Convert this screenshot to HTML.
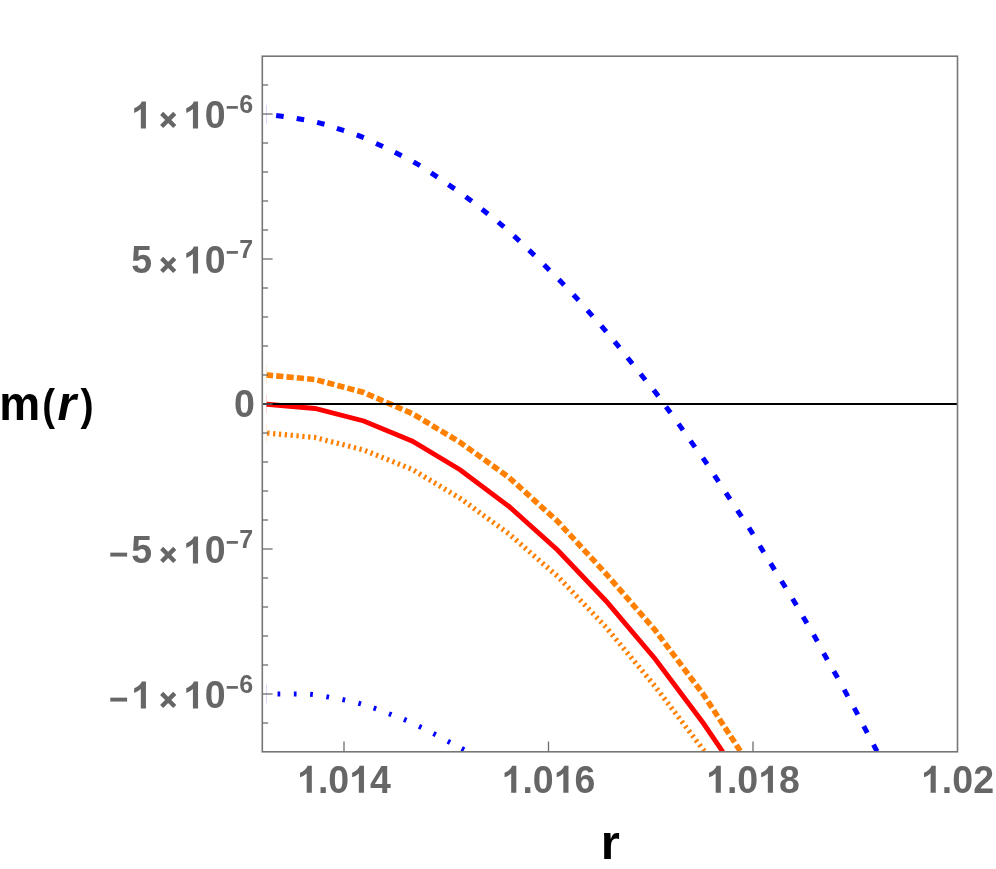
<!DOCTYPE html>
<html><head><meta charset="utf-8"><title>m(r)</title>
<style>
html,body{margin:0;padding:0;background:#fff;}
body{width:996px;height:869px;position:relative;overflow:hidden;font-family:"Liberation Sans",sans-serif;}
svg{position:absolute;left:0;top:0;display:block;will-change:transform;}
</style></head><body>
<svg width="996" height="869" viewBox="0 0 996 869">
<defs><clipPath id="fc"><rect x="262.3" y="56.2" width="695.2" height="695.5999999999999"/></clipPath>
<path id="one" d="M806 0H525V1059Q371 915 162 846V1101Q272 1137 401 1237.5T578 1472H806Z"/>
</defs>
<rect x="0" y="0" width="996" height="869" fill="#fff"/>
<g stroke="#0000ff" stroke-width="5.0" clip-path="url(#fc)"><line x1="276.14" y1="115.43" x2="283.66" y2="116.57"/><line x1="296.66" y1="118.43" x2="304.14" y2="119.77"/><line x1="317.12" y1="122.35" x2="324.48" y2="124.25"/><line x1="336.89" y1="128.31" x2="344.11" y2="130.69"/><line x1="356.72" y1="134.85" x2="363.78" y2="137.65"/><line x1="376.06" y1="143.39" x2="382.94" y2="146.61"/><line x1="394.86" y1="152.29" x2="401.64" y2="155.71"/><line x1="413.47" y1="161.84" x2="420.03" y2="165.66"/><line x1="431.08" y1="172.90" x2="437.42" y2="177.10"/><line x1="448.38" y1="184.58" x2="454.62" y2="188.92"/><line x1="465.70" y1="196.74" x2="471.80" y2="201.26"/><line x1="482.02" y1="209.25" x2="487.98" y2="213.95"/><line x1="498.20" y1="222.04" x2="504.00" y2="226.96"/><line x1="513.96" y1="235.92" x2="519.54" y2="241.08"/><line x1="529.02" y1="250.11" x2="534.48" y2="255.39"/><line x1="544.05" y1="264.82" x2="549.45" y2="270.18"/><line x1="558.85" y1="279.53" x2="564.15" y2="284.97"/><line x1="573.43" y1="294.70" x2="578.57" y2="300.30"/><line x1="587.48" y1="310.41" x2="592.52" y2="316.09"/><line x1="601.27" y1="325.87" x2="606.23" y2="331.63"/><line x1="614.59" y1="341.56" x2="619.41" y2="347.44"/><line x1="627.63" y1="357.78" x2="632.37" y2="363.72"/><line x1="640.62" y1="374.04" x2="645.38" y2="379.96"/><line x1="653.68" y1="390.09" x2="658.32" y2="396.11"/><line x1="666.01" y1="406.68" x2="670.49" y2="412.82"/><line x1="678.54" y1="423.91" x2="682.96" y2="430.09"/><line x1="690.54" y1="440.91" x2="694.96" y2="447.09"/><line x1="702.85" y1="457.87" x2="707.15" y2="464.13"/><line x1="714.41" y1="475.32" x2="718.59" y2="481.68"/><line x1="725.91" y1="492.82" x2="730.09" y2="499.18"/><line x1="737.41" y1="510.32" x2="741.59" y2="516.68"/><line x1="748.98" y1="527.78" x2="753.02" y2="534.22"/><line x1="759.78" y1="545.75" x2="763.72" y2="552.25"/><line x1="770.60" y1="563.37" x2="774.60" y2="569.83"/><line x1="781.50" y1="581.02" x2="785.50" y2="587.48"/><line x1="792.54" y1="598.74" x2="796.46" y2="605.26"/><line x1="803.09" y1="616.72" x2="806.91" y2="623.28"/><line x1="813.64" y1="634.69" x2="817.36" y2="641.31"/><line x1="823.66" y1="653.18" x2="827.34" y2="659.82"/><line x1="833.89" y1="671.19" x2="837.61" y2="677.81"/><line x1="844.17" y1="689.67" x2="847.83" y2="696.33"/><line x1="854.21" y1="707.90" x2="857.79" y2="714.60"/><line x1="863.74" y1="726.13" x2="867.26" y2="732.87"/><line x1="873.48" y1="744.64" x2="877.02" y2="751.36"/></g>
<g stroke="#0000ff" stroke-width="5.0" clip-path="url(#fc)"><line x1="277.55" y1="693.90" x2="280.25" y2="693.90"/><line x1="293.85" y1="693.88" x2="296.55" y2="693.92"/><line x1="310.16" y1="694.18" x2="312.84" y2="694.42"/><line x1="326.37" y1="696.67" x2="329.03" y2="697.13"/><line x1="342.48" y1="699.52" x2="345.12" y2="700.08"/><line x1="358.40" y1="703.24" x2="361.00" y2="703.96"/><line x1="373.62" y1="707.96" x2="376.18" y2="708.84"/><line x1="388.94" y1="713.72" x2="391.46" y2="714.68"/><line x1="403.96" y1="719.38" x2="406.44" y2="720.42"/><line x1="418.98" y1="726.21" x2="421.42" y2="727.39"/><line x1="433.40" y1="733.47" x2="435.80" y2="734.73"/><line x1="447.71" y1="741.17" x2="450.09" y2="742.43"/><line x1="461.70" y1="748.48" x2="464.10" y2="749.72"/></g>
<g fill="none" clip-path="url(#fc)" stroke-linejoin="miter">
<polyline points="266.60,375.00 315.00,379.50 363.75,392.50 412.50,413.75 460.00,442.25 508.75,477.25 557.50,521.25 606.25,574.00 655.00,630.00 703.75,695.00 740.80,751.80" stroke="#ff8000" stroke-width="5.6" stroke-dasharray="7.2 3.15" stroke-dashoffset="0.7"/>
<polyline points="266.60,404.25 315.00,408.50 363.75,421.00 412.50,441.25 460.00,469.75 508.75,506.25 557.50,550.00 606.25,601.25 655.00,658.75 703.75,723.75 722.80,751.80" stroke="#ff0000" stroke-width="4.9"/>
<polyline points="266.60,433.00 315.00,437.50 363.75,450.00 412.50,469.50 460.00,498.25 508.75,533.75 557.50,576.25 606.25,627.50 655.00,686.25 704.80,751.80" stroke="#ff8000" stroke-width="5.2" stroke-dasharray="2.3 3.57" stroke-dashoffset="-0.6"/>
</g>
<line x1="266.6" x2="266.6" y1="104.9" y2="123.5" stroke="#0000ff" stroke-width="0.8" opacity="0.22"/>
<line x1="266.6" x2="266.6" y1="365.7" y2="384.3" stroke="#ff8000" stroke-width="0.8" opacity="0.22"/>
<line x1="266.6" x2="266.6" y1="394.7" y2="413.3" stroke="#ff0000" stroke-width="0.8" opacity="0.22"/>
<line x1="266.6" x2="266.6" y1="423.7" y2="442.3" stroke="#ff8000" stroke-width="0.8" opacity="0.22"/>
<line x1="266.6" x2="266.6" y1="684.7" y2="703.3" stroke="#0000ff" stroke-width="0.8" opacity="0.22"/>
<line x1="262.3" x2="957.5" y1="404.0" y2="404.0" stroke="#000" stroke-width="2"/>
<g stroke="#767676" stroke-width="1.6" fill="none">
<rect x="262.3" y="56.2" width="695.2" height="695.5999999999999"/>
<line x1="262.3" x2="268.1" y1="723.0" y2="723.0" stroke-width="1.3" stroke="#6e6e6e"/>
<line x1="262.3" x2="272.6" y1="694.0" y2="694.0" stroke-width="1.3" stroke="#6e6e6e"/>
<line x1="262.3" x2="268.1" y1="665.0" y2="665.0" stroke-width="1.3" stroke="#6e6e6e"/>
<line x1="262.3" x2="268.1" y1="636.0" y2="636.0" stroke-width="1.3" stroke="#6e6e6e"/>
<line x1="262.3" x2="268.1" y1="607.0" y2="607.0" stroke-width="1.3" stroke="#6e6e6e"/>
<line x1="262.3" x2="268.1" y1="578.0" y2="578.0" stroke-width="1.3" stroke="#6e6e6e"/>
<line x1="262.3" x2="272.6" y1="549.0" y2="549.0" stroke-width="1.3" stroke="#6e6e6e"/>
<line x1="262.3" x2="268.1" y1="520.0" y2="520.0" stroke-width="1.3" stroke="#6e6e6e"/>
<line x1="262.3" x2="268.1" y1="491.0" y2="491.0" stroke-width="1.3" stroke="#6e6e6e"/>
<line x1="262.3" x2="268.1" y1="462.0" y2="462.0" stroke-width="1.3" stroke="#6e6e6e"/>
<line x1="262.3" x2="268.1" y1="433.0" y2="433.0" stroke-width="1.3" stroke="#6e6e6e"/>
<line x1="262.3" x2="272.6" y1="404.0" y2="404.0" stroke-width="1.3" stroke="#6e6e6e"/>
<line x1="262.3" x2="268.1" y1="375.0" y2="375.0" stroke-width="1.3" stroke="#6e6e6e"/>
<line x1="262.3" x2="268.1" y1="346.0" y2="346.0" stroke-width="1.3" stroke="#6e6e6e"/>
<line x1="262.3" x2="268.1" y1="317.0" y2="317.0" stroke-width="1.3" stroke="#6e6e6e"/>
<line x1="262.3" x2="268.1" y1="288.0" y2="288.0" stroke-width="1.3" stroke="#6e6e6e"/>
<line x1="262.3" x2="272.6" y1="259.0" y2="259.0" stroke-width="1.3" stroke="#6e6e6e"/>
<line x1="262.3" x2="268.1" y1="230.0" y2="230.0" stroke-width="1.3" stroke="#6e6e6e"/>
<line x1="262.3" x2="268.1" y1="201.0" y2="201.0" stroke-width="1.3" stroke="#6e6e6e"/>
<line x1="262.3" x2="268.1" y1="172.0" y2="172.0" stroke-width="1.3" stroke="#6e6e6e"/>
<line x1="262.3" x2="268.1" y1="143.0" y2="143.0" stroke-width="1.3" stroke="#6e6e6e"/>
<line x1="262.3" x2="272.6" y1="114.0" y2="114.0" stroke-width="1.3" stroke="#6e6e6e"/>
<line x1="262.3" x2="268.1" y1="85.0" y2="85.0" stroke-width="1.3" stroke="#6e6e6e"/>
<line x1="344.0" x2="344.0" y1="751.8" y2="741.5" stroke-width="1.3" stroke="#6e6e6e"/>
<line x1="548.5" x2="548.5" y1="751.8" y2="741.5" stroke-width="1.3" stroke="#6e6e6e"/>
<line x1="753.0" x2="753.0" y1="751.8" y2="741.5" stroke-width="1.3" stroke="#6e6e6e"/>
</g>
<g fill="#666" stroke="#666" stroke-width="0" stroke-linejoin="round" font-family="'Liberation Sans',sans-serif" font-weight="bold">
<use href="#one" transform="translate(297.07,792.80) scale(0.01831,-0.01831)"/><text transform="translate(317.93,792.80) scale(1,1.042)" font-size="37.5">.</text><text transform="translate(328.36,792.80) scale(1,1.042)" font-size="37.5">0</text><use href="#one" transform="translate(349.21,792.80) scale(0.01831,-0.01831)"/><text transform="translate(370.07,792.80) scale(1,1.042)" font-size="37.5">4</text>
<use href="#one" transform="translate(501.57,792.80) scale(0.01831,-0.01831)"/><text transform="translate(522.43,792.80) scale(1,1.042)" font-size="37.5">.</text><text transform="translate(532.85,792.80) scale(1,1.042)" font-size="37.5">0</text><use href="#one" transform="translate(553.71,792.80) scale(0.01831,-0.01831)"/><text transform="translate(574.57,792.80) scale(1,1.042)" font-size="37.5">6</text>
<use href="#one" transform="translate(706.07,792.80) scale(0.01831,-0.01831)"/><text transform="translate(726.93,792.80) scale(1,1.042)" font-size="37.5">.</text><text transform="translate(737.35,792.80) scale(1,1.042)" font-size="37.5">0</text><use href="#one" transform="translate(758.21,792.80) scale(0.01831,-0.01831)"/><text transform="translate(779.07,792.80) scale(1,1.042)" font-size="37.5">8</text>
<use href="#one" transform="translate(921.00,792.80) scale(0.01831,-0.01831)"/><text transform="translate(941.86,792.80) scale(1,1.042)" font-size="37.5">.</text><text transform="translate(952.28,792.80) scale(1,1.042)" font-size="37.5">0</text><text transform="translate(973.14,792.80) scale(1,1.042)" font-size="37.5">2</text>
<use href="#one" transform="translate(131.20,128.45) scale(0.01831,-0.01831)"/><path d="M161.65 113.35L174.75 126.45M161.65 126.45L174.75 113.35" fill="none" stroke-width="4.4" stroke-linecap="butt"/><use href="#one" transform="translate(183.30,128.45) scale(0.01831,-0.01831)"/><text transform="translate(204.80,128.45) scale(1,1.042)" font-size="37.5">0</text><rect x="226.7" y="106.05" width="11.2" height="2.7" stroke="none"/><text transform="translate(239.30,112.65) scale(1,1.042)" font-size="25.0">6</text>
<text transform="translate(131.20,273.45) scale(1,1.042)" font-size="37.5">5</text><path d="M161.65 258.35L174.75 271.45M161.65 271.45L174.75 258.35" fill="none" stroke-width="4.4" stroke-linecap="butt"/><use href="#one" transform="translate(183.30,273.45) scale(0.01831,-0.01831)"/><text transform="translate(204.80,273.45) scale(1,1.042)" font-size="37.5">0</text><rect x="226.7" y="251.05" width="11.2" height="2.7" stroke="none"/><text transform="translate(239.30,257.65) scale(1,1.042)" font-size="25.0">7</text>
<text transform="translate(233.90,417.35) scale(1,1.042)" font-size="37.5">0</text>
<rect x="110.3" y="552.65" width="16.8" height="3.9" stroke="none"/><text transform="translate(131.20,563.45) scale(1,1.042)" font-size="37.5">5</text><path d="M161.65 548.35L174.75 561.45M161.65 561.45L174.75 548.35" fill="none" stroke-width="4.4" stroke-linecap="butt"/><use href="#one" transform="translate(183.30,563.45) scale(0.01831,-0.01831)"/><text transform="translate(204.80,563.45) scale(1,1.042)" font-size="37.5">0</text><rect x="226.7" y="541.05" width="11.2" height="2.7" stroke="none"/><text transform="translate(239.30,547.65) scale(1,1.042)" font-size="25.0">7</text>
<rect x="110.3" y="697.65" width="16.8" height="3.9" stroke="none"/><use href="#one" transform="translate(131.20,708.45) scale(0.01831,-0.01831)"/><path d="M161.65 693.35L174.75 706.45M161.65 706.45L174.75 693.35" fill="none" stroke-width="4.4" stroke-linecap="butt"/><use href="#one" transform="translate(183.30,708.45) scale(0.01831,-0.01831)"/><text transform="translate(204.80,708.45) scale(1,1.042)" font-size="37.5">0</text><rect x="226.7" y="686.05" width="11.2" height="2.7" stroke="none"/><text transform="translate(239.30,692.65) scale(1,1.042)" font-size="25.0">6</text>
</g>
<g fill="#000" font-family="'Liberation Sans',sans-serif" font-weight="bold" font-size="48">
<text transform="translate(-0.75,419.5) scale(0.96,1)">m</text>
<text transform="translate(42.2,419.5) scale(0.80,0.92)">(</text>
<text x="57.6" y="419.5" font-style="italic">r</text>
<text transform="translate(80.5,419.5) scale(0.82,0.92)">)</text>
<text x="600.7" y="858.5" font-size="49">r</text>
</g>
</svg>
</body></html>
